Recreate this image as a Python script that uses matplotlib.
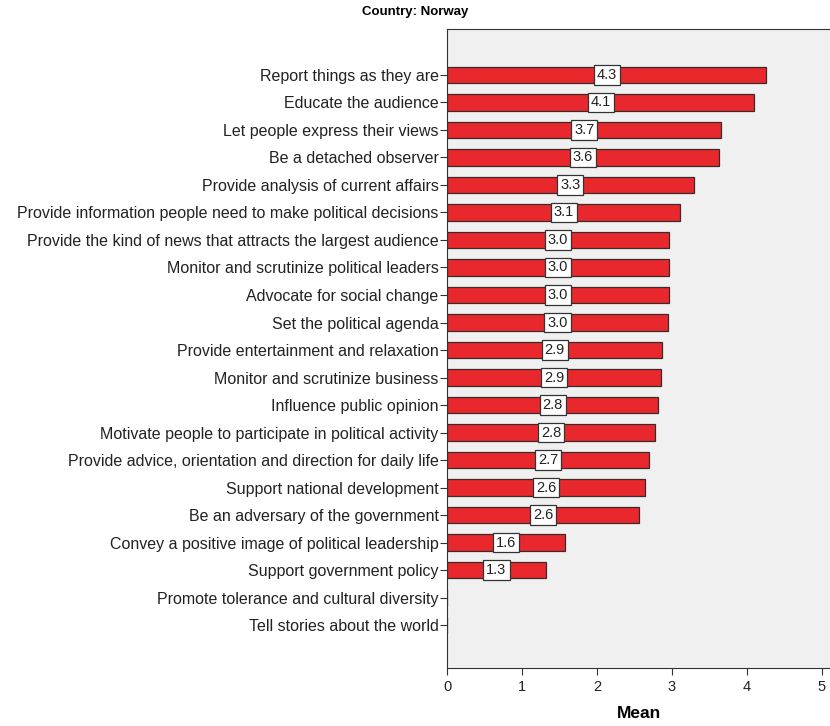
import numpy as np
import matplotlib.pyplot as plt

plt.rcParams['font.family'] = ['Liberation Sans', 'DejaVu Sans']

roles = ['Report things as they are', 'Educate the audience',
         'Let people express their views', 'Be a detached observer',
         'Provide analysis of current affairs',
         'Provide information people need to make political decisions',
         'Provide the kind of news that attracts the largest audience',
         'Monitor and scrutinize political leaders',
         'Advocate for social change', 'Set the political agenda',
         'Provide entertainment and relaxation',
         'Monitor and scrutinize business', 'Influence public opinion',
         'Motivate people to participate in political activity',
         'Provide advice, orientation and direction for daily life',
         'Support national development', 'Be an adversary of the government',
         'Convey a positive image of political leadership',
         'Support government policy', 'Promote tolerance and cultural diversity',
         'Tell stories about the world']
means = [4.26, 4.10, 3.66, 3.63, 3.29, 3.11, 2.96, 2.96, 2.96, 2.95, 2.87,
         2.86, 2.82, 2.78, 2.70, 2.64, 2.56, 1.57, 1.32, np.nan, np.nan]

fig = plt.figure(figsize=(8.3, 7.26), dpi=100)
ax = fig.add_axes([447/830, 58/726, 383/830, 639/726])
ax.set_facecolor('#f0f0f0')

y = np.arange(len(roles))
vals = np.nan_to_num(means)
ax.barh(y, vals, height=0.6, color='#e8282d', edgecolor='#3a2a2a', linewidth=0.9)

for yi, v in zip(y, means):
    if np.isnan(v):
        continue
    ax.text(v / 2, yi, '%.1f' % v, ha='center', va='center', fontsize=10.5,
            color='#222222',
            bbox=dict(boxstyle='square,pad=0.2', fc='white', ec='#333333', lw=0.9))

ax.set_yticks(y)
ax.set_yticklabels(roles, fontsize=11.5, color='#222222')
ax.set_ylim(len(roles) - 1 + 1.56, -1.67)
ax.set_xlim(0, 5.11)
ax.set_xticks([0, 1, 2, 3, 4, 5])
ax.tick_params(axis='x', labelsize=10.5, length=5, colors='#333333', labelcolor='#222222')
ax.tick_params(axis='y', length=5, colors='#333333', labelcolor='#222222', pad=1)
for s in ['left', 'bottom', 'top']:
    ax.spines[s].set_color('#333333')
ax.spines['right'].set_visible(False)
ax.set_xlabel('Mean', fontsize=12.5, fontweight='bold', labelpad=9)

fig.text(0.5, 1 - 12/726, 'Country: Norway', ha='center', va='center',
         fontsize=9.5, fontweight='bold')

plt.savefig('out.png', dpi=100)
